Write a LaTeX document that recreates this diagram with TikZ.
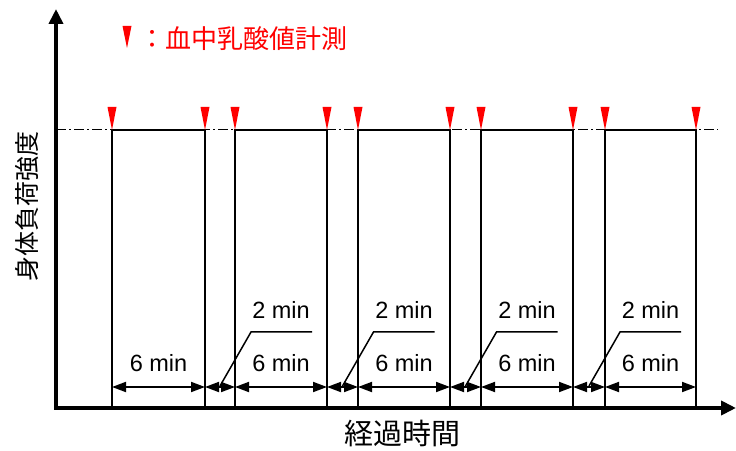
\documentclass[tikz,border=0pt]{standalone}
\usepackage{fontspec}
\newfontfamily\arialf{Liberation Sans}
\newfontfamily\jp{Noto Sans CJK JP}
\usetikzlibrary{arrows.meta,calc}
\tikzset{
  axis/.style={line width=3.8pt, -{Triangle[length=15pt,width=14pt]}},
  blockline/.style={line width=2.4pt},
  dimline/.style={line width=1.8pt, {Triangle[length=14pt,width=10pt]}-{Triangle[length=14pt,width=10pt]}},
  leader/.style={line width=1.5pt},
  refline/.style={line width=1pt, dash pattern=on 10pt off 3pt on 2pt off 3pt},
  lbl/.style={font=\arialf\fontsize{23.5}{23.5}\selectfont, inner sep=0pt},
}
\begin{document}
\begin{tikzpicture}[x=1pt,y=1pt]
\useasboundingbox (0,0) rectangle (736,450);
% reference line
\coordinate (r0) at (56,320);
\coordinate (r1) at (718,320);
\draw[refline] (r0) -- (r1);
% blocks
\foreach \a/\b [count=\i] in {112/205,235/327,358/450,481/573,605/696} {
  \coordinate (bl\i) at (\a,42);
  \coordinate (tl\i) at (\a,320);
  \coordinate (tr\i) at (\b,320);
  \coordinate (br\i) at (\b,42);
  \draw[blockline] (bl\i) -- (tl\i) -- (tr\i) -- (br\i);
  \coordinate (dl\i) at (\a,63);
  \coordinate (dr\i) at (\b,63);
  \draw[dimline] (dl\i) -- (dr\i);
  \node[lbl] (six\i) at ({(\a+\b)/2},87) {6 min};
  \fill[red] ($(tl\i)+(-4.5,23)$) -- ($(tl\i)+(4.5,23)$) -- (tl\i) -- cycle;
  \fill[red] ($(tr\i)+(-4.5,23)$) -- ($(tr\i)+(4.5,23)$) -- (tr\i) -- cycle;
}
% gaps
\foreach \a/\b/\c [count=\i] in {205/235/327, 327/358/450, 450/481/573, 573/605/696} {
  \coordinate (ga\i) at (\a,63);
  \coordinate (gb\i) at (\b,63);
  \draw[dimline] (ga\i) -- (gb\i);
  \coordinate (gm\i) at ({(\a+\b)/2},64);
  \coordinate (gk\i) at ({(\a+\b)/2+31},118);
  \coordinate (ge\i) at ({(\a+\b)/2+92},118);
  \draw[leader] (gm\i) -- (gk\i) -- (ge\i);
  \node[lbl] (two\i) at ({(\b+\c)/2},140) {2 min};
}
% axes
\coordinate (o) at (56,40.1);
\coordinate (ytop) at (56,441);
\coordinate (xo) at (54.1,42);
\coordinate (xend) at (736,42);
\draw[axis] (o) -- (ytop);
\draw[axis] (xo) -- (xend);
% labels
\node[inner sep=0pt, rotate=90, font=\jp\fontsize{25}{25}\selectfont] (ylab) at (27,243) {身体負荷強度};
\node[inner sep=0pt, font=\jp\fontsize{29}{29}\selectfont] (xlab) at (402,17) {経過時間};
% legend
\coordinate (lg) at (127,402);
\fill[red] ($(lg)+(-4.5,22)$) -- ($(lg)+(4.5,22)$) -- (lg) -- cycle;
\node[inner sep=0pt, anchor=west, text=red, font=\jp\fontsize{26}{26}\selectfont] (legend) at (139,411) {：血中乳酸値計測};
\end{tikzpicture}
\end{document}
